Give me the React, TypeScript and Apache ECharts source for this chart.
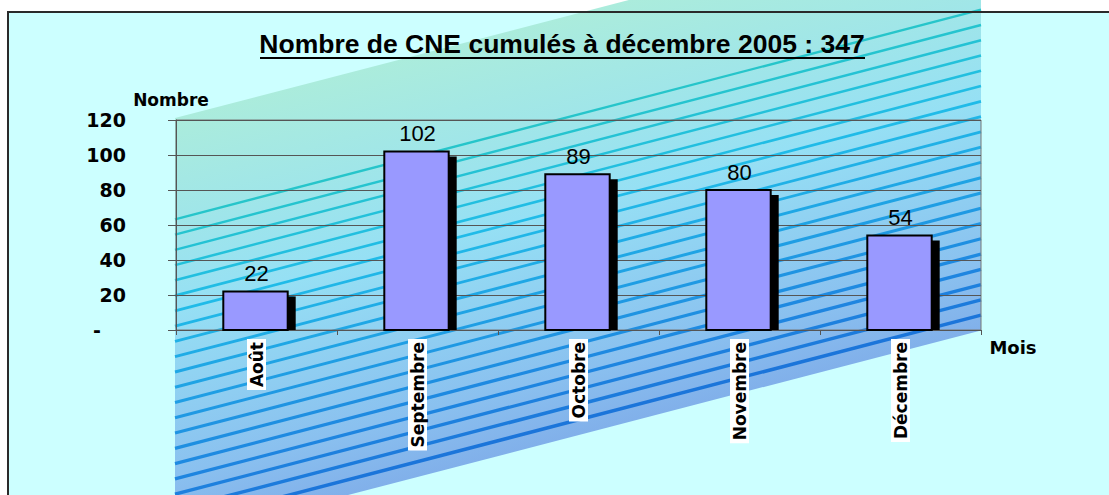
import React, { useEffect, useRef } from "react";
import * as echarts from "echarts";

const categories = ["Août", "Septembre", "Octobre", "Novembre", "Décembre"];
const values = [22, 102, 89, 80, 54];
const yMin = 0;
const yMax = 120;
const yInterval = 20;
const titleText = "Nombre de CNE cumulés à décembre 2005 : 347";
const yName = "Nombre";
const xName = "Mois";

// decorative background (parallelogram with stripes)
const PL = 175;
const PR = 981;
const SLOPE = 0.26;
const TOP_L = 118;
const H = 422;
const STRIPES = 21;
const T0 = 0.24;

function mix(c: number[], a: number) {
  return `rgb(${Math.round(c[0] * a + 255 * (1 - a))},${Math.round(c[1] * a + 255 * (1 - a))},${Math.round(c[2] * a + 255 * (1 - a))})`;
}
const stops: [number, number[], number][] = [
  [0, [44, 208, 168], 0.4],
  [0.45, [32, 188, 232], 0.47],
  [0.85, [30, 134, 224], 0.52],
  [1, [26, 112, 216], 0.55],
];
function colorAt(t: number) {
  for (let i = 0; i < stops.length - 1; i++) {
    const [a, ca] = stops[i];
    const [b, cb] = stops[i + 1];
    if (t >= a && t <= b) {
      const f = (t - a) / (b - a);
      return [0, 1, 2].map((k) => ca[k] + (cb[k] - ca[k]) * f);
    }
  }
  return stops[stops.length - 1][1];
}

function buildGraphic() {
  const els: any[] = [];
  els.push({
    type: "rect",
    z: -30,
    shape: { x: 8, y: 12, width: 1200, height: 600 },
    style: { fill: "#CCFFFF" },
  });
  const yL = (t: number) => TOP_L + H * t;
  const yR = (t: number) => TOP_L - SLOPE * (PR - PL) + H * t;
  const sx = (PL + PR) / 2;
  const sy = TOP_L - SLOPE * (sx - PL);
  const d = H / Math.sqrt(1 + SLOPE * SLOPE);
  const ux = SLOPE / Math.sqrt(1 + SLOPE * SLOPE);
  const uy = 1 / Math.sqrt(1 + SLOPE * SLOPE);
  els.push({
    type: "polygon",
    z: -20,
    shape: {
      points: [
        [PL, yL(0)],
        [PR, yR(0)],
        [PR, yR(1)],
        [PL, yL(1)],
      ],
    },
    style: {
      fill: {
        type: "linear",
        global: true,
        x: sx,
        y: sy,
        x2: sx + ux * d,
        y2: sy + uy * d,
        colorStops: stops.map(([o, c, a]) => ({ offset: o, color: mix(c, a) })),
      },
    },
  });
  for (let i = 0; i <= STRIPES; i++) {
    const t = T0 + ((1 - T0) * i) / STRIPES;
    if (t > 0.995) continue;
    const c = colorAt(t);
    els.push({
      type: "line",
      z: -15,
      shape: { x1: PL, y1: yL(t), x2: PR, y2: yR(t) },
      style: { stroke: mix(c, 1), lineWidth: 2 + 1.5 * t },
    });
  }
  els.push({
    type: "rect",
    z: -5,
    shape: { x: 8, y: 12, width: 1200, height: 600 },
    style: { fill: "none", stroke: "#2a2a2a", lineWidth: 2 },
  });
  els.push({
    type: "text",
    z: 5,
    style: {
      text: titleText,
      x: 562,
      y: 44,
      align: "center",
      verticalAlign: "middle",
      textAlign: "center",
      textVerticalAlign: "middle",
      font: 'bold 26.5px "Liberation Sans", Arial, sans-serif',
      fill: "#000",
    },
  });
  els.push({
    type: "line",
    z: 5,
    shape: { x1: 260, y1: 58, x2: 865, y2: 58 },
    style: { stroke: "#000", lineWidth: 2 },
  });
  els.push({
    type: "text",
    z: 5,
    style: {
      text: yName,
      x: 171,
      y: 100,
      align: "center",
      verticalAlign: "middle",
      textAlign: "center",
      textVerticalAlign: "middle",
      font: 'bold 17px "DejaVu Sans", sans-serif',
      fill: "#000",
    },
  });
  els.push({
    type: "text",
    z: 5,
    style: {
      text: xName,
      x: 1013,
      y: 347,
      align: "center",
      verticalAlign: "middle",
      textAlign: "center",
      textVerticalAlign: "middle",
      font: 'bold 18px "DejaVu Sans", sans-serif',
      fill: "#000",
    },
  });
  return els;
}

function renderItem(params: any, api: any) {
  const idx = api.value(0);
  const v = api.value(1);
  const top = api.coord([idx, v]);
  const base = api.coord([idx, 0]);
  const bw = api.size([1, 0])[0] * 0.4;
  const x0 = top[0] - bw / 2 - 1;
  return {
    type: "group",
    children: [
      {
        type: "rect",
        shape: { x: x0 + 8, y: top[1] + 5, width: bw, height: base[1] - top[1] - 5 },
        style: { fill: "#000" },
      },
      {
        type: "rect",
        shape: { x: x0, y: top[1], width: bw, height: base[1] - top[1] },
        style: { fill: "#9999FF", stroke: "#000", lineWidth: 2 },
      },
      {
        type: "text",
        style: {
          text: String(v),
          x: top[0],
          y: top[1] - 18,
          align: "center",
          verticalAlign: "middle",
          textAlign: "center",
          textVerticalAlign: "middle",
          font: '22px "Liberation Sans", Arial, sans-serif',
          fill: "#000",
        },
      },
    ],
  };
}

export default function App() {
  const ref = useRef<HTMLDivElement>(null);
  useEffect(() => {
    if (!ref.current) return;
    const chart = echarts.init(ref.current, undefined, { renderer: "svg" });
    const labelFont = { fontFamily: "DejaVu Sans", fontWeight: "bold" as const, fontSize: 19, color: "#000" };
    chart.setOption({
      animation: false,
      backgroundColor: "#fff",
      graphic: { elements: buildGraphic() },
      grid: {
        left: 176,
        right: 1109 - 981,
        top: 120,
        bottom: 495 - 330,
        show: true,
        borderColor: "#777",
        borderWidth: 1,
        backgroundColor: "transparent",
      },
      xAxis: {
        type: "category",
        data: categories,
        axisLine: { lineStyle: { color: "#555", width: 1 } },
        axisTick: { show: true, length: 5, lineStyle: { color: "#555" } },
        axisLabel: {
          rotate: 90,
          margin: 9,
          fontFamily: "DejaVu Sans",
          fontWeight: "bold",
          fontSize: 17,
          color: "#000",
          backgroundColor: "#fff",
          padding: [1, 3, 1, 3],
        },
        splitLine: { show: false },
      },
      yAxis: {
        type: "value",
        min: yMin,
        max: yMax,
        interval: yInterval,
        axisLine: { show: true, lineStyle: { color: "#555" } },
        axisTick: { show: true, length: 8, lineStyle: { color: "#555" } },
        splitLine: { show: true, lineStyle: { color: "#555", width: 1 } },
        axisLabel: {
          margin: 50,
          formatter: (v: number) => (v === 0 ? "{d|-}" : "{n|" + v + "}"),
          rich: {
            n: labelFont,
            d: { ...labelFont, padding: [0, 25, 0, 0] },
          },
        },
      },
      series: [
        {
          type: "custom",
          renderItem,
          encode: { x: 0, y: 1 },
          data: values.map((v, i) => [i, v]),
          z: 3,
        },
      ],
    });
    return () => chart.dispose();
  }, []);
  return (
    <div
      ref={ref}
      style={{ position: "fixed", left: 0, top: 0, width: 1109, height: 495 }}
    />
  );
}
